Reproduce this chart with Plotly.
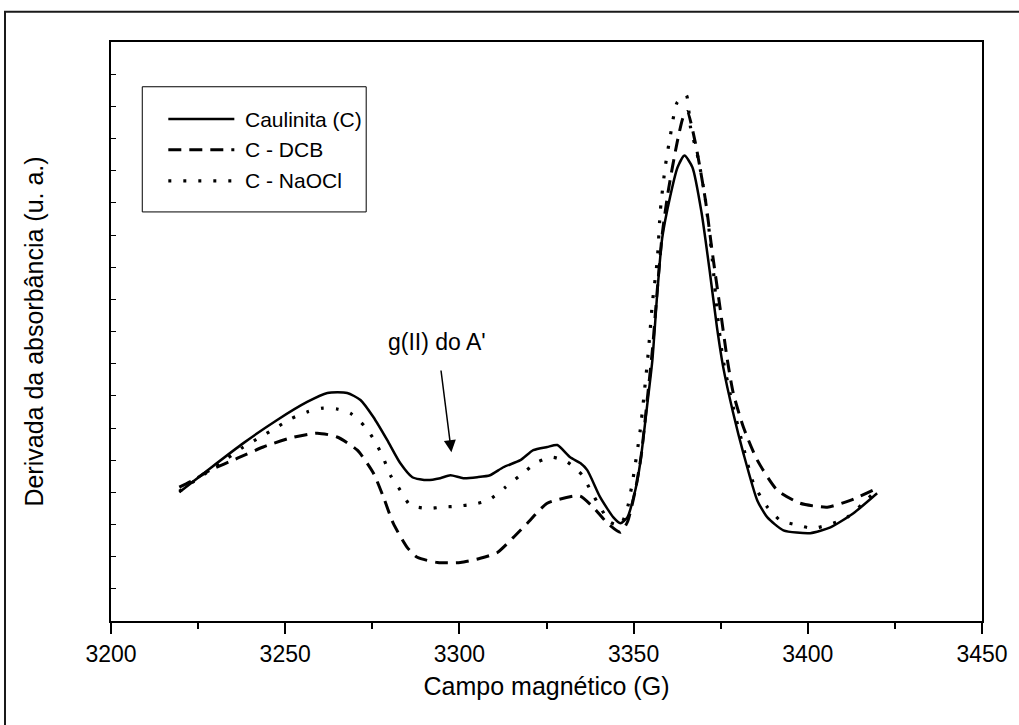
import plotly.graph_objects as go

# ---------------- data ----------------
series_names = ["Caulinita (C)", "C - DCB", "C - NaOCl"]

field_c = [3219.6, 3228.5, 3238.0, 3247.7, 3256.3, 3262.1, 3267.8, 3271.6, 3275.3, 3279.3,
           3283.0, 3286.5, 3290.8, 3294.5, 3297.4, 3301.1, 3305.1, 3308.8, 3312.6, 3317.5,
           3321.2, 3325.2, 3328.1, 3331.8, 3334.7, 3336.7, 3340.4, 3344.2, 3346.2, 3348.2,
           3350.5, 3351.9, 3353.9, 3355.4, 3356.8, 3358.2, 3360.5, 3362.6, 3364.6, 3366.9,
           3369.5, 3372.0, 3373.9, 3375.7, 3378.6, 3381.5, 3385.5, 3388.4, 3393.0, 3400.7,
           3406.5, 3413.1, 3419.9]
deriv_c = [4.00, 4.75, 5.53, 6.25, 6.81, 7.09, 7.09, 6.87, 6.34, 5.62,
           4.91, 4.47, 4.38, 4.44, 4.53, 4.44, 4.47, 4.53, 4.78, 5.00,
           5.31, 5.41, 5.47, 5.09, 4.91, 4.69, 3.85, 3.22, 3.04, 3.22,
           4.07, 4.91, 6.71, 8.12, 10.20, 11.90, 13.20, 14.10, 14.47, 14.10,
           12.70, 10.75, 9.15, 7.90, 6.46, 5.22, 3.75, 3.22, 2.82, 2.73,
           2.91, 3.35, 3.97]

field_dcb = [3219.6, 3223.6, 3228.5, 3236.3, 3243.7, 3251.5, 3259.2, 3264.9, 3270.7, 3275.3,
             3278.2, 3281.0, 3285.0, 3287.9, 3293.7, 3300.3, 3306.0, 3310.9, 3315.5, 3319.5,
             3325.2, 3332.7, 3334.7, 3338.4, 3342.5, 3346.2, 3348.2, 3350.5, 3352.2, 3353.9,
             3355.4, 3356.8, 3358.2, 3360.0, 3362.5, 3364.2, 3365.4, 3367.7, 3370.6, 3372.6,
             3374.9, 3376.9, 3378.6, 3381.5, 3385.5, 3391.2, 3397.8, 3405.6, 3412.2, 3418.8]
deriv_dcb = [4.16, 4.38, 4.69, 5.06, 5.41, 5.69, 5.84, 5.72, 5.31, 4.60,
             3.85, 3.04, 2.29, 1.98, 1.82, 1.82, 1.95, 2.13, 2.60, 3.04,
             3.66, 3.88, 3.88, 3.54, 3.04, 2.76, 3.07, 4.07, 5.16, 6.87,
             8.43, 10.30, 12.01, 13.41, 14.88, 15.65, 15.84, 14.88, 13.10, 11.45,
             9.67, 8.12, 7.09, 6.03, 5.00, 4.07, 3.66, 3.54, 3.75, 4.07]

field_naocl = [3219.6, 3233.4, 3238.0, 3242.9, 3247.7, 3251.5, 3256.3, 3260.9, 3264.9, 3268.7,
               3273.0, 3275.9, 3278.2, 3280.2, 3283.0, 3285.9, 3290.8, 3295.1, 3299.4, 3304.0,
               3308.3, 3313.2, 3317.5, 3322.4, 3326.7, 3331.0, 3335.3, 3337.6, 3340.4, 3343.3,
               3346.2, 3348.2, 3349.9, 3351.9, 3354.2, 3355.4, 3356.8, 3357.7, 3359.1, 3360.5,
               3362.5, 3365.1, 3366.3, 3368.6, 3370.6, 3372.6, 3374.0, 3375.7, 3378.3, 3381.5,
               3384.4, 3388.4, 3392.1, 3397.0, 3401.6, 3407.3, 3411.3, 3415.9, 3418.8]
deriv_naocl = [4.03, 5.06, 5.41, 5.72, 6.03, 6.28, 6.50, 6.62, 6.59, 6.46,
               6.03, 5.56, 5.06, 4.53, 4.07, 3.60, 3.50, 3.54, 3.57, 3.63,
               3.75, 4.16, 4.53, 4.94, 5.09, 4.94, 4.53, 4.07, 3.54, 3.07,
               2.98, 3.50, 4.47, 5.93, 8.33, 9.89, 11.23, 12.79, 14.13, 15.06,
               16.12, 16.35, 15.37, 14.35, 13.10, 11.23, 9.58, 8.12, 6.78, 5.41,
               4.28, 3.54, 3.13, 2.98, 2.88, 3.04, 3.22, 3.66, 3.97]

x_tick_values = [3200, 3250, 3300, 3350, 3400, 3450]
x_tick_labels = ["3200", "3250", "3300", "3350", "3400", "3450"]

annotation_text = "g(II) do A'"
annotation_point = (3297.7, 5.25)

# ---------------- styles ----------------
FONT = "Liberation Sans, Arial, Helvetica, sans-serif"
styles = [
    dict(color="black", width=2.5, dash="solid"),
    dict(color="black", width=3, dash="13px,8px"),
    dict(color="black", width=3.2, dash="3px,12px"),
]

fig = go.Figure()
for name, xs, ys, st in zip(series_names,
                            [field_c, field_dcb, field_naocl],
                            [deriv_c, deriv_dcb, deriv_naocl],
                            styles):
    fig.add_trace(go.Scatter(x=xs, y=ys, mode="lines", name=name,
                             line=dict(color=st["color"], width=st["width"], dash=st["dash"],
                                       shape="spline", smoothing=0.6),
                             showlegend=False, hoverinfo="skip"))

# ---------------- custom legend (box, sample lines, labels) ----------------
shapes = []
annotations = []
leg_x0, leg_x1, leg_ytop, leg_ybot = 0.0359, 0.293, 0.9227, 0.7065
row_y = [0.867, 0.8137, 0.760]
sample_x0, sample_x1, text_x = 0.0658, 0.1416, 0.152
shapes.append(dict(type="rect", xref="paper", yref="paper",
                   x0=leg_x0, x1=leg_x1, y0=leg_ybot, y1=leg_ytop,
                   line=dict(color="black", width=1), fillcolor="white", layer="above"))
for name, st, yy in zip(series_names, styles, row_y):
    shapes.append(dict(type="line", xref="paper", yref="paper",
                       x0=sample_x0, x1=sample_x1, y0=yy, y1=yy,
                       line=dict(color="black", width=st["width"], dash=st["dash"]),
                       layer="above"))
    annotations.append(dict(xref="paper", yref="paper", x=text_x, y=yy, text=name,
                            showarrow=False, xanchor="left", yanchor="middle",
                            font=dict(family=FONT, size=21, color="black")))

# outer frame of the original figure (partly cropped)
shapes.append(dict(type="rect", xref="paper", yref="paper",
                   x0=-0.1217, x1=1.3, y0=-0.5, y1=1.0522,
                   line=dict(color="#1a1a1a", width=2), layer="above"))

# arrow annotation
annotations.append(dict(x=annotation_point[0], y=annotation_point[1], xref="x", yref="y",
                        text=annotation_text, showarrow=True, ax=-14, ay=-110,
                        arrowhead=2, arrowsize=1.6, arrowwidth=1.5, arrowcolor="black",
                        startstandoff=14,
                        font=dict(family=FONT, size=23, color="black")))

fig.update_layout(
    width=1019, height=725,
    margin=dict(l=111, r=37, t=42, b=104),
    paper_bgcolor="white", plot_bgcolor="white",
    font=dict(family=FONT, size=23, color="black"),
    shapes=shapes, annotations=annotations,
    showlegend=False,
    xaxis=dict(range=[3200, 3450], tickvals=x_tick_values, ticktext=x_tick_labels,
               ticks="outside", ticklen=11, tickwidth=2, tickcolor="black",
               minor=dict(dtick=25, tick0=3200, ticks="outside", ticklen=6, tickwidth=2,
                          tickcolor="black"),
               showline=True, linewidth=2, linecolor="black", mirror=True,
               showgrid=False, zeroline=False,
               tickfont=dict(family=FONT, size=23),
               title=dict(text="Campo magnético (G)", font=dict(family=FONT, size=25),
                          standoff=12)),
    yaxis=dict(range=[0, 18], tick0=0, dtick=1, ticks="inside", ticklen=5, tickwidth=1,
               tickcolor="black", showticklabels=False,
               showline=True, linewidth=2, linecolor="black", mirror=True,
               showgrid=False, zeroline=False,
               title=dict(text="Derivada da absorbância (u. a.)",
                          font=dict(family=FONT, size=25), standoff=58)),
)

fig.write_html("out.html")
